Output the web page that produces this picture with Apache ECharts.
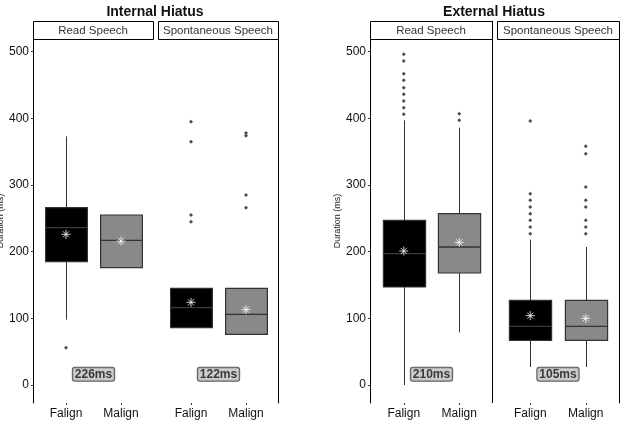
<!DOCTYPE html>
<html>
<head>
<meta charset="utf-8">
<script src="https://cdn.jsdelivr.net/npm/echarts@6/dist/echarts.min.js"></script>
<style>
  html, body { margin: 0; padding: 0; background: #fff; }
  #chart { width: 624px; height: 426px; }
</style>
</head>
<body>
<div id="chart"></div>
<script>
// categories and facets
const categories = ['Falign', 'Malign'];
const panelTitles = ['Internal Hiatus', 'External Hiatus'];
const facetTitles = ['Read Speech', 'Spontaneous Speech'];
const yTicks = [0, 100, 200, 300, 400, 500];

// boxes: [category, whiskerLow, q1, median, q3, whiskerHigh]
const intReadBox = [[0, 98, 185, 236, 266, 373], [1, 176, 176, 217, 255, 255]];
const intSpontBox = [[0, 86, 86, 116, 145, 145], [1, 76, 76, 106, 145, 145]];
const extReadBox = [[0, 0, 147, 197, 247, 397], [1, 79, 168, 207, 257, 386]];
const extSpontBox = [[0, 27, 67, 88, 127, 218], [1, 27, 67, 88, 127, 207]];

// means
const intReadMean = [[0, 226], [1, 216]];
const intSpontMean = [[0, 124], [1, 113]];
const extReadMean = [[0, 201], [1, 214]];
const extSpontMean = [[0, 104], [1, 100]];

// outliers
const intReadOut = [[0, 56]];
const intSpontOut = [[0, 395], [0, 365], [0, 255], [0, 245], [1, 378], [1, 374], [1, 285], [1, 266]];
const extReadOut = [[0, 496], [0, 486], [0, 467], [0, 457], [0, 446], [0, 436], [0, 426], [0, 416], [0, 406],
  [1, 407], [1, 397]];
const extSpontOut = [[0, 396], [0, 287], [0, 277], [0, 267], [0, 257], [0, 247], [0, 237], [0, 227],
  [1, 358], [1, 347], [1, 297], [1, 277], [1, 267], [1, 247], [1, 237], [1, 227]];

// mean duration labels
const durationLabels = ['226ms', '122ms', '210ms', '105ms'];
const labelY = 16;

const FONT = 'Liberation Sans, Arial, sans-serif';
const Y_MIN = -27, Y_MAX = 519;
const TOP = 39, HEIGHT = 364;

const chart = echarts.init(document.getElementById('chart'));

// 外框 grid (0,1) + 4 facet grids (2..5)
const grids = [
  { left: 33, top: TOP, width: 245, height: HEIGHT },
  { left: 370, top: TOP, width: 249, height: HEIGHT },
  { left: 38.5, top: TOP, width: 110, height: HEIGHT },
  { left: 163.5, top: TOP, width: 110, height: HEIGHT },
  { left: 376, top: TOP, width: 111, height: HEIGHT },
  { left: 502.5, top: TOP, width: 111, height: HEIGHT },
].map(g => ({ ...g, containLabel: false, outerBoundsMode: 'none' }));

const xAxes = [
  { type: 'value', gridIndex: 0, show: false },
  { type: 'value', gridIndex: 1, show: false },
];
for (let g = 2; g < 6; g++) {
  xAxes.push({
    type: 'category',
    gridIndex: g,
    data: categories,
    axisLine: { show: false, onZero: false },
    axisTick: { show: true, alignWithLabel: true, length: 2, lineStyle: { color: '#333' } },
    axisLabel: { color: '#111', fontSize: 12, fontFamily: FONT, margin: 5 },
  });
}
for (let g = 2; g < 6; g++) {
  xAxes.push({ type: 'value', gridIndex: g, min: 0, max: 2, show: false });
}

function frameAxis(gridIndex, withLabels) {
  return {
    type: 'value',
    gridIndex,
    min: Y_MIN,
    max: Y_MAX,
    position: withLabels ? 'left' : 'right',
    name: withLabels ? 'Duration (ms)' : '',
    nameLocation: 'middle',
    nameGap: 28,
    nameTextStyle: { fontSize: 9, color: '#222', fontFamily: FONT },
    axisLine: { show: true, onZero: false, lineStyle: { color: '#000', width: 1 } },
    axisTick: withLabels
      ? { show: true, length: 2, customValues: yTicks, lineStyle: { color: '#333' } }
      : { show: false },
    axisLabel: withLabels
      ? { show: true, customValues: yTicks, color: '#111', fontSize: 12, fontFamily: FONT, margin: 4 }
      : { show: false },
    splitLine: { show: false },
  };
}

const yAxes = [frameAxis(0, true), frameAxis(0, false), frameAxis(1, true), frameAxis(1, false)];
for (let g = 2; g < 6; g++) {
  yAxes.push({ type: 'value', gridIndex: g, min: Y_MIN, max: Y_MAX, show: false });
}

function renderBox(params, api) {
  const c = api.value(0);
  const lo = api.coord([c, api.value(1)]);
  const q1 = api.coord([c, api.value(2)]);
  const med = api.coord([c, api.value(3)]);
  const q3 = api.coord([c, api.value(4)]);
  const hi = api.coord([c, api.value(5)]);
  const w = api.size([1, 0])[0] * 0.76;
  const x = Math.round(q3[0]) + 0.5;
  const fill = c === 0 ? '#000' : '#898989';
  const stroke = { stroke: '#333', lineWidth: 1 };
  return {
    type: 'group',
    children: [
      { type: 'line', shape: { x1: x, y1: lo[1], x2: x, y2: q1[1] }, style: stroke },
      { type: 'line', shape: { x1: x, y1: q3[1], x2: x, y2: hi[1] }, style: stroke },
      { type: 'rect', shape: { x: x - w / 2, y: q3[1], width: w, height: q1[1] - q3[1] },
        style: { fill, stroke: '#333', lineWidth: 1.2 } },
      { type: 'line', shape: { x1: x - w / 2, y1: med[1], x2: x + w / 2, y2: med[1] },
        style: { stroke: c === 0 ? '#3a3a3a' : '#333', lineWidth: 1.4 } },
    ],
  };
}

const asterisk = 'path://M5,0L5,10M0,5L10,5M1.6,1.6L8.4,8.4M1.6,8.4L8.4,1.6';

const facetData = [
  [intReadBox, intReadMean, intReadOut],
  [intSpontBox, intSpontMean, intSpontOut],
  [extReadBox, extReadMean, extReadOut],
  [extSpontBox, extSpontMean, extSpontOut],
];

const series = [];
facetData.forEach(([box, mean, out], i) => {
  const xi = 2 + i, yi = 4 + i;
  series.push({
    type: 'custom',
    xAxisIndex: xi,
    yAxisIndex: yi,
    renderItem: renderBox,
    encode: { x: 0, y: [1, 2, 3, 4, 5] },
    data: box,
    silent: true,
  });
  series.push({
    type: 'scatter',
    xAxisIndex: xi,
    yAxisIndex: yi,
    symbol: 'diamond',
    symbolSize: 4,
    itemStyle: { color: '#222' },
    data: out,
    silent: true,
  });
  series.push({
    type: 'scatter',
    xAxisIndex: xi,
    yAxisIndex: yi,
    symbol: asterisk,
    symbolSize: 9,
    itemStyle: { color: '#fff', borderColor: '#fff', borderWidth: 1 },
    data: mean,
    z: 5,
    silent: true,
  });
  series.push({
    type: 'scatter',
    xAxisIndex: 6 + i,
    yAxisIndex: yi,
    symbolSize: 0,
    data: [{ value: [1, labelY], name: durationLabels[i] }],
    label: {
      show: true,
      position: 'inside',
      formatter: '{b}',
      fontFamily: FONT,
      fontSize: 12,
      fontWeight: 'bold',
      color: '#111',
      backgroundColor: '#c0c0c0',
      borderColor: '#333',
      borderWidth: 1,
      borderRadius: 2,
      padding: [1, 2, 0, 2],
    },
    silent: true,
  });
});

// strip boxes and titles
function strip(x, w, text) {
  return [
    { type: 'rect', shape: { x: x + 0.5, y: 21.5, width: w, height: 18 },
      style: { fill: '#fff', stroke: '#000', lineWidth: 1 }, z: 10 },
    { type: 'text', x: x + w / 2, y: 31, z: 11,
      style: { text, font: '11.5px ' + FONT, fill: '#333', align: 'center', verticalAlign: 'middle' } },
  ];
}

const graphic = [
  { type: 'text', x: 155, y: 12,
    style: { text: panelTitles[0], font: 'bold 14px ' + FONT, fill: '#111', align: 'center', verticalAlign: 'middle' } },
  { type: 'text', x: 494, y: 12,
    style: { text: panelTitles[1], font: 'bold 14px ' + FONT, fill: '#111', align: 'center', verticalAlign: 'middle' } },
  ...strip(33, 120, facetTitles[0]),
  ...strip(158, 120, facetTitles[1]),
  ...strip(370, 122, facetTitles[0]),
  ...strip(497, 122, facetTitles[1]),
  { type: 'line', shape: { x1: 492.5, y1: 21, x2: 492.5, y2: 403 }, style: { stroke: '#000', lineWidth: 1 }, z: 10 },
];

chart.setOption({
  animation: false,
  grid: grids,
  xAxis: xAxes,
  yAxis: yAxes,
  series,
  graphic,
});
</script>
</body>
</html>
